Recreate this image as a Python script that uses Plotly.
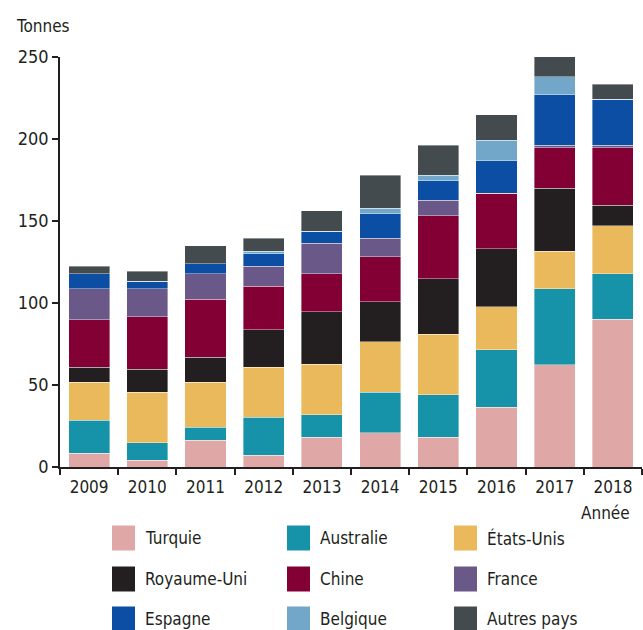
import plotly.graph_objects as go

years = ["2009", "2010", "2011", "2012", "2013", "2014", "2015", "2016", "2017", "2018"]
series_names = ["Turquie", "Australie", "États-Unis", "Royaume-Uni", "Chine", "France", "Espagne", "Belgique", "Autres pays"]
colors = ["#E0A7A7", "#1693A8", "#E9B95C", "#231F20", "#820034", "#6A5889", "#0C4EA3", "#72A7CA", "#444B4E"]

turquie   = [8.5, 4.1, 16.2, 7.3, 18.1, 20.9, 18.1, 36.5, 62.5, 90.1]
australie = [20.1, 10.7, 8.0, 22.9, 13.8, 24.6, 25.9, 34.9, 46.1, 27.6]
etats_unis = [23.2, 30.9, 27.6, 30.7, 30.8, 30.8, 37.0, 26.4, 23.1, 29.4]
royaume_uni = [8.9, 14.0, 15.2, 22.9, 32.1, 24.6, 33.9, 35.3, 38.4, 12.4]
chine     = [29.2, 32.0, 35.3, 26.4, 23.1, 27.4, 38.3, 33.7, 24.7, 35.3]
france    = [18.7, 16.9, 15.6, 12.2, 18.5, 11.1, 9.4, 0.0, 1.3, 1.3]
espagne   = [9.3, 4.7, 6.1, 7.7, 7.5, 15.1, 11.9, 19.9, 30.8, 28.0]
belgique  = [0.0, 0.0, 0.0, 1.6, 0.0, 3.2, 3.3, 12.6, 11.0, 0.0]
autres    = [4.5, 6.2, 10.8, 7.7, 12.4, 20.1, 18.5, 15.4, 12.4, 9.3]

y_ticks = [0, 50, 100, 150, 200, 250]

all_series = [turquie, australie, etats_unis, royaume_uni, chine, france, espagne, belgique, autres]

FONT = "DejaVu Sans Condensed, Liberation Sans Narrow, Roboto, sans-serif"
TXT = "#231F20"

fig = go.Figure()
for name, vals, col in zip(series_names, all_series, colors):
    fig.add_trace(go.Bar(
        x=years, y=vals, name=name,
        marker=dict(color=col, line=dict(color="rgba(255,255,255,0.55)", width=0.7)),
        showlegend=False,
    ))

W, H = 643, 630
L, R, T, B = 60, 1, 57, 163

fig.update_layout(
    barmode="stack",
    bargap=0.295,
    width=W, height=H,
    margin=dict(l=L, r=R, t=T, b=B),
    plot_bgcolor="white", paper_bgcolor="white",
    font=dict(family=FONT, size=17, color=TXT),
    xaxis=dict(
        type="category", showline=True, linecolor=TXT, linewidth=1.5,
        ticks="outside", tickson="boundaries", ticklen=6, tickcolor=TXT, tickwidth=1.5,
        ticklabelstandoff=4,
        tickfont=dict(family=FONT, size=17, color=TXT),
        showgrid=False,
    ),
    yaxis=dict(
        range=[0, 250], tickvals=y_ticks, showline=True, linecolor=TXT, linewidth=1.5,
        ticks="outside", ticklen=6, tickcolor=TXT, tickwidth=1.5,
        tickfont=dict(family=FONT, size=18, color=TXT),
        showgrid=False, zeroline=False,
    ),
)

pw, ph = W - L - R, H - T - B
def px2paper(x, y):
    return (x - L) / pw, (H - B - y) / ph

final_ann = []
a = px2paper(14, 26)
final_ann.append(dict(text="Tonnes", x=a[0], y=a[1], xref="paper", yref="paper", showarrow=False,
                      xanchor="left", yanchor="middle", font=dict(family=FONT, size=17, color=TXT)))
a = px2paper(632, 513)
final_ann.append(dict(text="Année", x=a[0], y=a[1], xref="paper", yref="paper", showarrow=False,
                      xanchor="right", yanchor="middle", font=dict(family=FONT, size=17, color=TXT)))

shapes = []
col_x = [112, 287, 454]
row_y = [538, 579, 619]
for i, (name, col) in enumerate(zip(series_names, colors)):
    r, c = divmod(i, 3)
    x0, x1 = col_x[c], col_x[c] + 23
    y0, y1 = row_y[r] - 12.5, row_y[r] + 12.5
    p0 = px2paper(x0, y1)
    p1 = px2paper(x1, y0)
    shapes.append(dict(type="rect", xref="paper", yref="paper", x0=p0[0], y0=p0[1], x1=p1[0], y1=p1[1],
                       fillcolor=col, line=dict(width=0)))
    t = px2paper(col_x[c] + 31, row_y[r])
    final_ann.append(dict(text=name, x=t[0], y=t[1], xref="paper", yref="paper", showarrow=False,
                          xanchor="left", yanchor="middle", font=dict(family=FONT, size=17, color=TXT)))

fig.update_layout(annotations=final_ann, shapes=shapes)
fig.write_html("out.html", config={"displayModeBar": False},
               post_script="document.body.style.margin='0px';document.body.style.overflow='hidden';")
